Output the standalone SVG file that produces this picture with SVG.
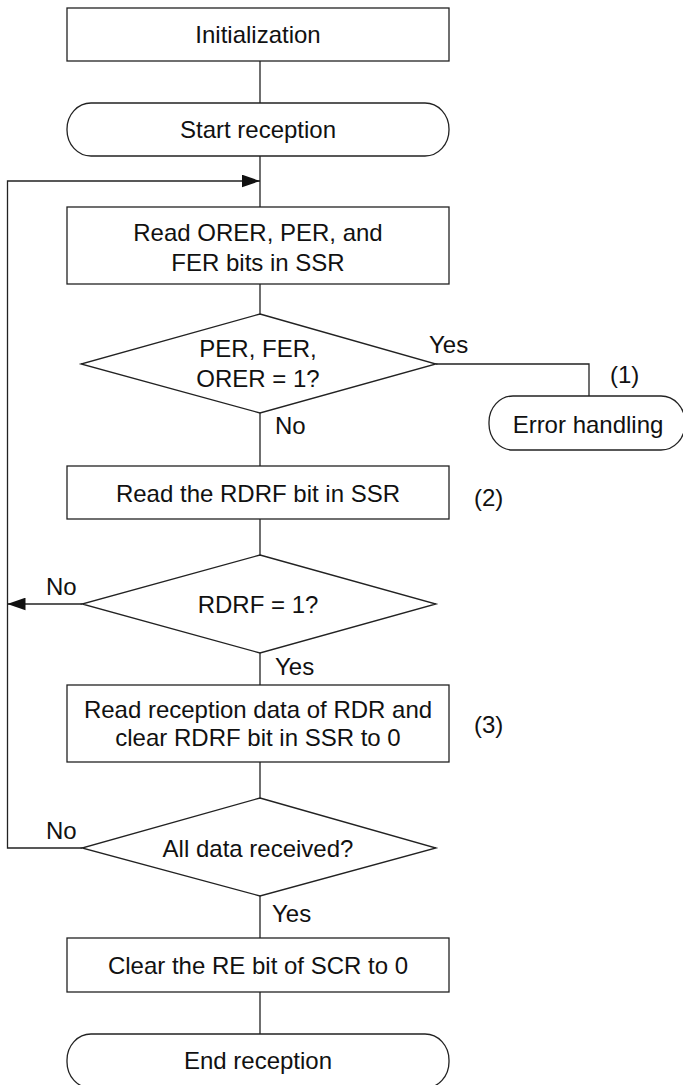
<svg xmlns="http://www.w3.org/2000/svg" width="683" height="1085" viewBox="0 0 683 1085">
<style>
  .shape { fill: #ffffff; stroke: #222222; stroke-width: 1.3; }
  .conn { fill: none; stroke: #222222; stroke-width: 1.3; }
  text { font-family: "Liberation Sans", Arial, sans-serif; font-size: 24px; fill: #111111; }
  .c { text-anchor: middle; }
</style>
<defs>
  <marker id="arrow" markerUnits="userSpaceOnUse" markerWidth="18" markerHeight="13" viewBox="0 0 17 12" refX="17" refY="6" orient="auto">
    <path d="M0,0 L17,6 L0,12 z" fill="#111111"/>
  </marker>
</defs>
<rect width="683" height="1085" fill="#ffffff"/>

<g id="connectors">
  <line class="conn" x1="260" y1="61" x2="260" y2="103"/>
  <line class="conn" x1="260" y1="156" x2="260" y2="207"/>
  <path class="conn" d="M82,848 H7.5 V181 H260" marker-end="url(#arrow)"/>
  <path class="conn" d="M82,604 H7.5" marker-end="url(#arrow)"/>
  <line class="conn" x1="260" y1="284" x2="260" y2="314"/>
  <path class="conn" d="M436,364 H589 V396"/>
  <line class="conn" x1="260" y1="413" x2="260" y2="466"/>
  <line class="conn" x1="260" y1="519" x2="260" y2="555"/>
  <line class="conn" x1="260" y1="653" x2="260" y2="685"/>
  <line class="conn" x1="260" y1="762" x2="260" y2="798"/>
  <line class="conn" x1="260" y1="896" x2="260" y2="938"/>
  <line class="conn" x1="260" y1="992" x2="260" y2="1034"/>
</g>

<g id="init">
  <rect class="shape" x="67" y="8" width="382" height="53"/>
  <text class="c" x="258" y="43">Initialization</text>
</g>

<g id="start">
  <rect class="shape" x="67" y="103" width="382" height="53" rx="24" ry="26"/>
  <text class="c" x="258" y="137.5">Start reception</text>
</g>

<g id="read-errors">
  <rect class="shape" x="67" y="207" width="382" height="77"/>
  <text class="c" x="258" y="241">Read ORER, PER, and</text>
  <text class="c" x="258" y="271">FER bits in SSR</text>
</g>

<g id="dec-errors">
  <polygon class="shape" points="260,314 436,364 260,413 81,364"/>
  <text class="c" x="258" y="357">PER, FER,</text>
  <text class="c" x="258" y="387">ORER = 1?</text>
  <text x="429" y="353">Yes</text>
  <text x="275" y="434">No</text>
</g>

<g id="error-handling">
  <rect class="shape" x="489" y="396" width="196" height="54" rx="24" ry="26"/>
  <text class="c" x="588" y="432.5">Error handling</text>
  <text x="610" y="383">(1)</text>
</g>

<g id="read-rdrf">
  <rect class="shape" x="67" y="466" width="382" height="53"/>
  <text class="c" x="258" y="501.5">Read the RDRF bit in SSR</text>
  <text x="474" y="506">(2)</text>
</g>

<g id="dec-rdrf">
  <polygon class="shape" points="260,555 436,604 260,653 82,604"/>
  <text class="c" x="258" y="612.5">RDRF = 1?</text>
  <text x="46" y="595">No</text>
  <text x="275" y="675">Yes</text>
</g>

<g id="read-data">
  <rect class="shape" x="67" y="685" width="382" height="77"/>
  <text class="c" x="258" y="717.5">Read reception data of RDR and</text>
  <text class="c" x="258" y="746">clear RDRF bit in SSR to 0</text>
  <text x="474" y="733">(3)</text>
</g>

<g id="dec-all">
  <polygon class="shape" points="260,798 436,848 260,896 82,848"/>
  <text class="c" x="258" y="856.5">All data received?</text>
  <text x="46" y="839">No</text>
  <text x="272" y="921.5">Yes</text>
</g>

<g id="clear-re">
  <rect class="shape" x="67" y="938" width="382" height="54"/>
  <text class="c" x="258" y="974">Clear the RE bit of SCR to 0</text>
</g>

<g id="end">
  <rect class="shape" x="67" y="1034" width="382" height="54" rx="24" ry="26"/>
  <text class="c" x="258" y="1068.5">End reception</text>
</g>
</svg>
